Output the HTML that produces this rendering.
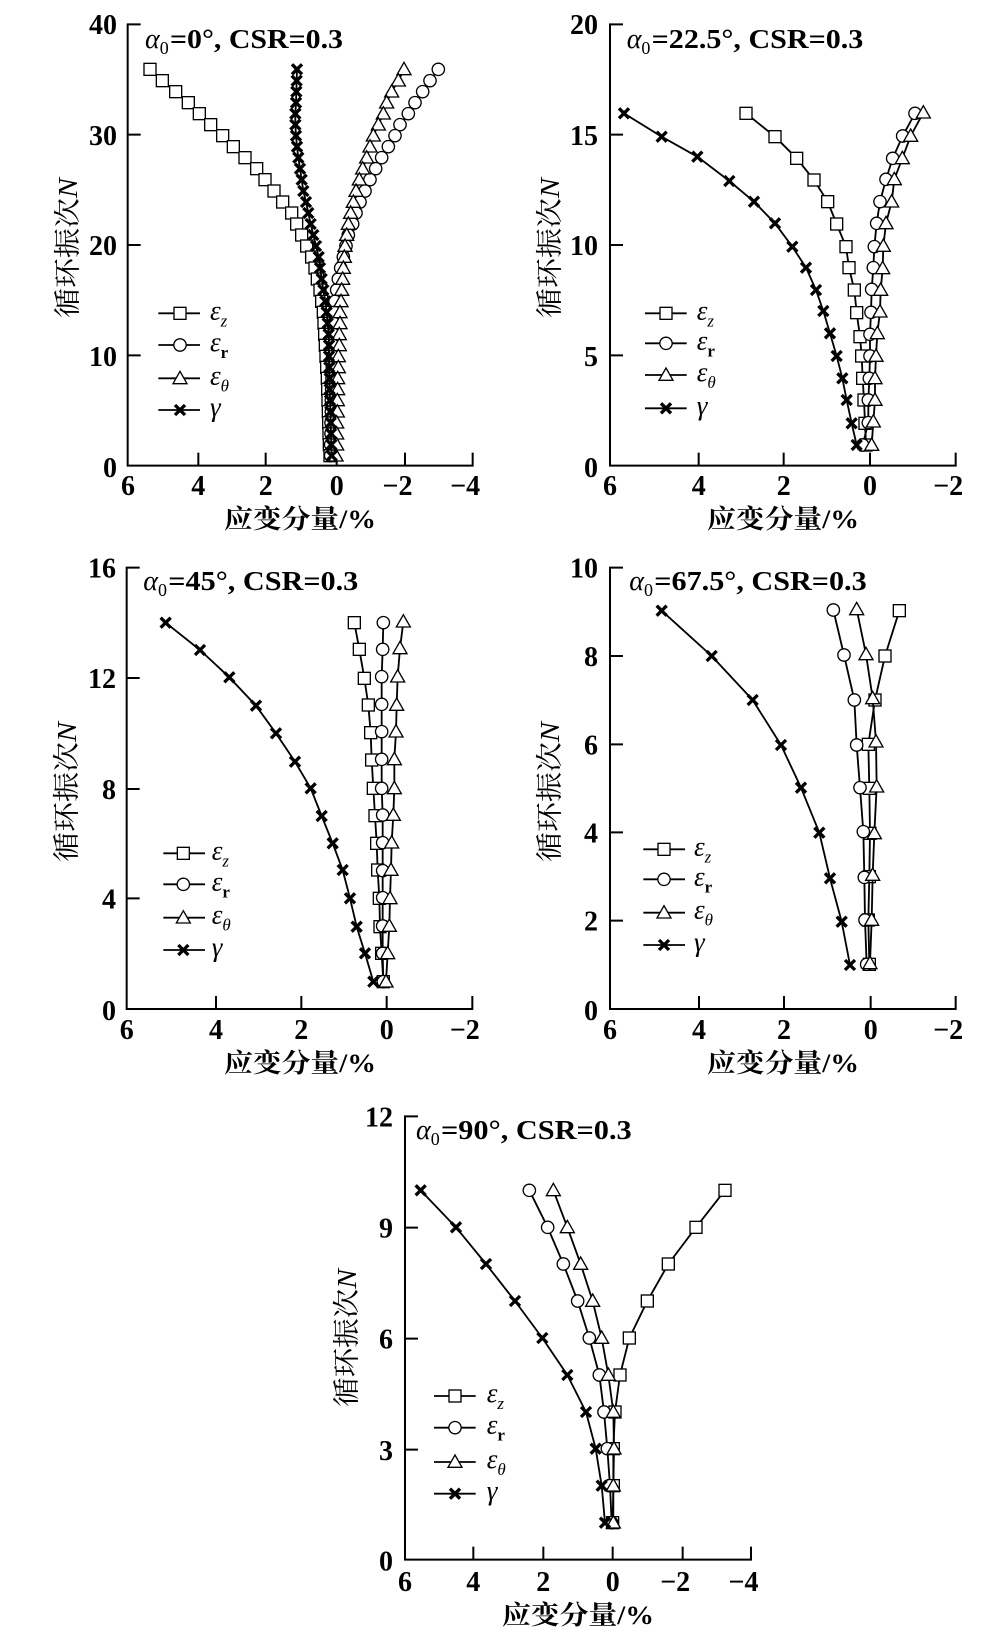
<!DOCTYPE html>
<html>
<head>
<meta charset="utf-8">
<style>
html,body{margin:0;padding:0;background:#fff;}
svg{display:block;}
.ax{fill:none;stroke:#000;stroke-width:6;stroke-linecap:square;}
.ln{fill:none;stroke:#000;stroke-width:5.5;stroke-linejoin:round;}
.z{marker-start:url(#mS);marker-mid:url(#mS);marker-end:url(#mS);}
.r{marker-start:url(#mC);marker-mid:url(#mC);marker-end:url(#mC);}
.h{marker-start:url(#mT);marker-mid:url(#mT);marker-end:url(#mT);}
.g{marker-start:url(#mX);marker-mid:url(#mX);marker-end:url(#mX);}
.lz{marker-mid:url(#mS);}
.lr{marker-mid:url(#mC);}
.lh{marker-mid:url(#mT);}
.lg{marker-mid:url(#mX);}
.tk{font-family:"Liberation Serif",serif;font-weight:bold;font-size:28px;fill:#000;}
.al{font-family:"Liberation Serif",serif;font-style:italic;font-size:28px;fill:#000;}
.sb{font-family:"Liberation Serif",serif;font-size:18px;fill:#000;}
.bt{font-family:"Liberation Serif",serif;font-weight:bold;font-size:27px;fill:#000;}
.xt{font-family:"Liberation Serif","Noto Serif CJK SC",serif;font-weight:bold;font-size:26px;fill:#000;}
.yt{font-family:"Liberation Serif","Noto Serif CJK SC",serif;font-weight:normal;font-size:27px;fill:#000;}
.ni{font-family:"Liberation Serif",serif;font-style:italic;}
.le{font-family:"Liberation Serif",serif;font-style:italic;font-size:27px;fill:#000;}
.ls{font-family:"Liberation Serif",serif;font-size:17px;}
</style>
</head>
<body>
<svg width="1003" height="1645" viewBox="0 0 1003 1645">
<defs>
<marker id="mS" markerUnits="userSpaceOnUse" markerWidth="60" markerHeight="60" refX="0" refY="0" overflow="visible" orient="0"><rect x="-18" y="-18" width="36" height="36" fill="#fff" stroke="#000" stroke-width="4"/></marker>
<marker id="mC" markerUnits="userSpaceOnUse" markerWidth="60" markerHeight="60" refX="0" refY="0" overflow="visible" orient="0"><circle cx="0" cy="0" r="18.5" fill="#fff" stroke="#000" stroke-width="4"/></marker>
<marker id="mT" markerUnits="userSpaceOnUse" markerWidth="60" markerHeight="60" refX="0" refY="0" overflow="visible" orient="0"><path d="M0,-21 L21,16 L-21,16 Z" fill="#fff" stroke="#000" stroke-width="4" stroke-linejoin="miter"/></marker>
<marker id="mX" markerUnits="userSpaceOnUse" markerWidth="60" markerHeight="60" refX="0" refY="0" overflow="visible" orient="0"><path d="M-15,-15 L15,15 M-15,15 L15,-15" fill="none" stroke="#000" stroke-width="10"/></marker>
</defs>
<rect x="0" y="0" width="1003" height="1645" fill="#fff"/>

<!-- ================= Panel 1 ================= -->
<g transform="scale(0.333333)">
<path class="ax" d="M383,73 L383,1397 L1418,1397 M383,73 h36 M383,404 h36 M383,735 h36 M383,1066 h36 M595,1397 v-36 M797,1397 v-36 M1010,1397 v-36 M1215,1397 v-36 M1418,1397 v-36"/>
<polyline class="ln z" points="450,208 487,242 527,275 565,308 598,341 632,374 668,407 700,440 735,473 770,506 795,539 822,573 848,606 875,639 890,672 905,705 920,738 935,771 945,804 952,837 960,870 965,904 970,937 972,970 974,1003 976,1036 978,1069 980,1102 982,1135 983,1168 984,1201 985,1235 986,1268 987,1301 988,1334 990,1367"/>
<polyline class="ln r" points="1315,208 1290,242 1268,275 1245,308 1225,341 1200,374 1185,407 1165,440 1145,473 1127,506 1110,539 1095,573 1080,606 1068,639 1058,672 1045,705 1038,738 1030,771 1022,804 1015,837 1010,870 1005,904 1003,937 1001,970 1000,1003 999,1036 998,1069 997,1102 996,1135 995,1168 994,1201 994,1235 993,1268 993,1301 992,1334 992,1367"/>
<polyline class="ln h" points="1212,208 1195,242 1175,275 1160,308 1150,341 1135,374 1120,407 1110,440 1100,473 1088,506 1078,539 1068,573 1060,606 1052,639 1045,672 1040,705 1035,738 1033,771 1030,804 1028,837 1025,870 1023,904 1020,937 1020,970 1018,1003 1018,1036 1015,1069 1015,1102 1013,1135 1013,1168 1012,1201 1012,1235 1010,1268 1010,1301 1010,1334 1008,1367"/>
<polyline class="ln g" points="891,208 890,242 889,275 888,308 886,341 886,374 888,407 891,440 895,473 900,506 905,539 910,573 918,606 925,639 932,672 940,705 948,738 956,771 960,804 965,837 970,870 976,904 980,937 983,970 986,1003 987,1036 987,1069 988,1102 989,1135 989,1168 990,1201 991,1235 992,1268 993,1301 994,1334 995,1367"/>
<polyline class="ln lz" points="475,940 540,940 600,940"/>
<polyline class="ln lr" points="475,1035 540,1035 600,1035"/>
<polyline class="ln lh" points="475,1135 540,1135 600,1135"/>
<polyline class="ln lg" points="475,1230 540,1230 600,1230"/>
</g>
<text class="tk" x="117" y="34" text-anchor="end">40</text>
<text class="tk" x="117" y="145" text-anchor="end">30</text>
<text class="tk" x="117" y="255" text-anchor="end">20</text>
<text class="tk" x="117" y="366" text-anchor="end">10</text>
<text class="tk" x="117" y="477" text-anchor="end">0</text>
<text class="tk" x="128" y="495" text-anchor="middle">6</text>
<text class="tk" x="198.3" y="495" text-anchor="middle">4</text>
<text class="tk" x="265.7" y="495" text-anchor="middle">2</text>
<text class="tk" x="336.7" y="495" text-anchor="middle">0</text>
<text class="tk" x="412.5" y="495" text-anchor="end">−2</text>
<text class="tk" x="480.2" y="495" text-anchor="end">−4</text>
<text class="xt" x="300" y="528" text-anchor="middle" textLength="152" lengthAdjust="spacingAndGlyphs">应变分量/%</text>
<text class="yt" transform="translate(77,248) rotate(-90)" text-anchor="middle" textLength="140" lengthAdjust="spacingAndGlyphs">循环振次<tspan class="ni">N</tspan></text>
<text x="145" y="48"><tspan class="al">α</tspan><tspan class="sb" dy="6">0</tspan></text>
<text class="bt" x="170" y="48" textLength="173" lengthAdjust="spacingAndGlyphs">=0°, CSR=0.3</text>
<text class="le" x="210" y="319.3">ε<tspan class="ls" dy="7">z</tspan></text>
<text class="le" x="210" y="351">ε<tspan class="ls" dy="7" font-style="normal" font-weight="bold">r</tspan></text>
<text class="le" x="210" y="384.3">ε<tspan class="ls" dy="7">θ</tspan></text>
<text class="le" x="210" y="416">γ</text>

<!-- ================= Panel 2 ================= -->
<g transform="translate(490,0) scale(0.333333)">
<path class="ax" d="M360,73 L360,1397 L1397,1397 M360,73 h36 M360,404 h36 M360,735 h36 M360,1066 h36 M626,1397 v-36 M881,1397 v-36 M1140,1397 v-36 M1397,1397 v-36"/>
<polyline class="ln z" points="768,340 855,410 920,475 972,540 1013,605 1040,672 1068,740 1077,803 1093,870 1100,938 1110,1010 1115,1068 1118,1135 1122,1200 1125,1270 1128,1335"/>
<polyline class="ln r" points="1275,340 1238,408 1208,475 1188,538 1170,605 1160,670 1153,740 1150,803 1145,868 1143,937 1140,1003 1140,1068 1138,1135 1135,1200 1135,1268 1118,1335"/>
<polyline class="ln h" points="1300,338 1262,408 1237,475 1213,538 1205,605 1188,670 1180,738 1178,805 1172,870 1170,935 1162,1000 1158,1068 1155,1135 1155,1200 1150,1265 1145,1335"/>
<polyline class="ln g" points="402,340 515,410 622,470 718,543 792,605 855,670 907,740 948,803 978,870 1000,933 1020,1000 1040,1068 1057,1135 1070,1200 1085,1270 1100,1335"/>
<polyline class="ln lz" points="465,940 528,940 590,940"/>
<polyline class="ln lr" points="465,1030 528,1030 590,1030"/>
<polyline class="ln lh" points="465,1125 528,1125 590,1125"/>
<polyline class="ln lg" points="465,1225 528,1225 590,1225"/>
</g>
<text class="tk" x="598" y="34" text-anchor="end">20</text>
<text class="tk" x="598" y="145" text-anchor="end">15</text>
<text class="tk" x="598" y="255" text-anchor="end">10</text>
<text class="tk" x="598" y="366" text-anchor="end">5</text>
<text class="tk" x="598" y="477" text-anchor="end">0</text>
<text class="tk" x="610" y="495" text-anchor="middle">6</text>
<text class="tk" x="698.7" y="495" text-anchor="middle">4</text>
<text class="tk" x="783.7" y="495" text-anchor="middle">2</text>
<text class="tk" x="870" y="495" text-anchor="middle">0</text>
<text class="tk" x="963.2" y="495" text-anchor="end">−2</text>
<text class="xt" x="783" y="528" text-anchor="middle" textLength="152" lengthAdjust="spacingAndGlyphs">应变分量/%</text>
<text class="yt" transform="translate(559,248) rotate(-90)" text-anchor="middle" textLength="140" lengthAdjust="spacingAndGlyphs">循环振次<tspan class="ni">N</tspan></text>
<text x="626.7" y="48"><tspan class="al">α</tspan><tspan class="sb" dy="6">0</tspan></text>
<text class="bt" x="651.7" y="48" textLength="211.6" lengthAdjust="spacingAndGlyphs">=22.5°, CSR=0.3</text>
<text class="le" x="696.7" y="319.3">ε<tspan class="ls" dy="7">z</tspan></text>
<text class="le" x="696.7" y="349.3">ε<tspan class="ls" dy="7" font-style="normal" font-weight="bold">r</tspan></text>
<text class="le" x="696.7" y="381">ε<tspan class="ls" dy="7">θ</tspan></text>
<text class="le" x="696.7" y="414.3">γ</text>

<!-- ================= Panel 3 ================= -->
<g transform="translate(0,520) scale(0.333333)">
<path class="ax" d="M380,143 L380,1467 L1417,1467 M380,143 h36 M380,474 h36 M380,807 h36 M380,1135 h36 M648,1467 v-36 M904,1467 v-36 M1160,1467 v-36 M1417,1467 v-36"/>
<polyline class="ln z" points="1063,308 1078,388 1093,475 1105,555 1112,638 1115,720 1120,805 1125,887 1130,970 1133,1050 1138,1135 1140,1220 1145,1300 1150,1385"/>
<polyline class="ln r" points="1150,308 1148,388 1145,470 1145,553 1145,635 1145,718 1145,805 1148,885 1148,968 1148,1052 1148,1133 1148,1218 1148,1300 1150,1385"/>
<polyline class="ln h" points="1210,305 1200,385 1193,470 1190,555 1188,635 1183,718 1183,805 1180,885 1175,968 1173,1050 1170,1135 1168,1218 1163,1300 1158,1385"/>
<polyline class="ln g" points="497,308 600,390 688,472 768,557 828,640 885,725 932,805 965,888 998,970 1028,1050 1050,1135 1070,1220 1095,1300 1120,1385"/>
<polyline class="ln lz" points="490,1000 550,1000 615,1000"/>
<polyline class="ln lr" points="490,1093 550,1093 615,1093"/>
<polyline class="ln lh" points="490,1193 550,1193 615,1193"/>
<polyline class="ln lg" points="490,1290 550,1290 615,1290"/>
</g>
<text class="tk" x="116" y="577.7" text-anchor="end">16</text>
<text class="tk" x="116" y="688" text-anchor="end">12</text>
<text class="tk" x="116" y="799" text-anchor="end">8</text>
<text class="tk" x="116" y="908.3" text-anchor="end">4</text>
<text class="tk" x="116" y="1020" text-anchor="end">0</text>
<text class="tk" x="126.7" y="1039" text-anchor="middle">6</text>
<text class="tk" x="216" y="1039" text-anchor="middle">4</text>
<text class="tk" x="301.3" y="1039" text-anchor="middle">2</text>
<text class="tk" x="386.7" y="1039" text-anchor="middle">0</text>
<text class="tk" x="479.8" y="1039" text-anchor="end">−2</text>
<text class="xt" x="300" y="1072" text-anchor="middle" textLength="152" lengthAdjust="spacingAndGlyphs">应变分量/%</text>
<text class="yt" transform="translate(76,792) rotate(-90)" text-anchor="middle" textLength="140" lengthAdjust="spacingAndGlyphs">循环振次<tspan class="ni">N</tspan></text>
<text x="143.3" y="590"><tspan class="al">α</tspan><tspan class="sb" dy="6">0</tspan></text>
<text class="bt" x="168.3" y="590" textLength="190" lengthAdjust="spacingAndGlyphs">=45°, CSR=0.3</text>
<text class="le" x="211.7" y="859.3">ε<tspan class="ls" dy="7">z</tspan></text>
<text class="le" x="211.7" y="890.3">ε<tspan class="ls" dy="7" font-style="normal" font-weight="bold">r</tspan></text>
<text class="le" x="211.7" y="923.7">ε<tspan class="ls" dy="7">θ</tspan></text>
<text class="le" x="211.7" y="956">γ</text>

<!-- ================= Panel 4 ================= -->
<g transform="translate(490,520) scale(0.333333)">
<path class="ax" d="M360,143 L360,1467 L1397,1467 M360,143 h36 M360,408 h36 M360,673 h36 M360,937 h36 M360,1202 h36 M627,1467 v-36 M882,1467 v-36 M1142,1467 v-36 M1397,1467 v-36"/>
<polyline class="ln z" points="1228,272 1185,408 1155,540 1135,673 1138,805 1140,940 1138,1070 1135,1200 1138,1333"/>
<polyline class="ln r" points="1030,270 1062,405 1093,540 1100,675 1110,803 1120,935 1123,1072 1125,1200 1130,1333"/>
<polyline class="ln h" points="1100,268 1128,403 1148,535 1158,665 1160,800 1153,940 1148,1065 1145,1200 1140,1330"/>
<polyline class="ln g" points="515,272 665,408 788,540 873,675 933,803 988,938 1020,1075 1055,1205 1080,1335"/>
<polyline class="ln lz" points="460,988 522,988 585,988"/>
<polyline class="ln lr" points="460,1078 522,1078 585,1078"/>
<polyline class="ln lh" points="460,1178 522,1178 585,1178"/>
<polyline class="ln lg" points="460,1275 522,1275 585,1275"/>
</g>
<text class="tk" x="598" y="577.7" text-anchor="end">10</text>
<text class="tk" x="598" y="666" text-anchor="end">8</text>
<text class="tk" x="598" y="754.3" text-anchor="end">6</text>
<text class="tk" x="598" y="842.3" text-anchor="end">4</text>
<text class="tk" x="598" y="930.7" text-anchor="end">2</text>
<text class="tk" x="598" y="1020" text-anchor="end">0</text>
<text class="tk" x="610" y="1039" text-anchor="middle">6</text>
<text class="tk" x="699" y="1039" text-anchor="middle">4</text>
<text class="tk" x="784" y="1039" text-anchor="middle">2</text>
<text class="tk" x="870.7" y="1039" text-anchor="middle">0</text>
<text class="tk" x="963.2" y="1039" text-anchor="end">−2</text>
<text class="xt" x="783" y="1072" text-anchor="middle" textLength="152" lengthAdjust="spacingAndGlyphs">应变分量/%</text>
<text class="yt" transform="translate(559,792) rotate(-90)" text-anchor="middle" textLength="140" lengthAdjust="spacingAndGlyphs">循环振次<tspan class="ni">N</tspan></text>
<text x="629.3" y="590"><tspan class="al">α</tspan><tspan class="sb" dy="6">0</tspan></text>
<text class="bt" x="654.3" y="590" textLength="212.4" lengthAdjust="spacingAndGlyphs">=67.5°, CSR=0.3</text>
<text class="le" x="694" y="855.3">ε<tspan class="ls" dy="7">z</tspan></text>
<text class="le" x="694" y="885.3">ε<tspan class="ls" dy="7" font-style="normal" font-weight="bold">r</tspan></text>
<text class="le" x="694" y="918.7">ε<tspan class="ls" dy="7">θ</tspan></text>
<text class="le" x="694" y="951">γ</text>

<!-- ================= Panel 5 ================= -->
<g transform="translate(330,1040) scale(0.333333)">
<path class="ax" d="M225,229 L225,1559 L1263,1559 M225,229 h36 M225,563 h36 M225,896 h36 M225,1229 h36 M430,1559 v-36 M640,1559 v-36 M848,1559 v-36 M1058,1559 v-36 M1263,1559 v-36"/>
<polyline class="ln z" points="1185,451 1098,562 1015,672 952,783 898,894 870,1005 855,1116 850,1226 850,1337 848,1448"/>
<polyline class="ln r" points="598,451 653,562 700,672 743,783 778,894 808,1005 822,1116 832,1226 840,1337 845,1448"/>
<polyline class="ln h" points="670,451 712,562 752,672 788,783 815,894 835,1005 850,1116 852,1226 850,1337 850,1448"/>
<polyline class="ln g" points="272,451 378,562 468,672 555,783 637,894 712,1005 768,1116 797,1226 815,1337 825,1448"/>
<polyline class="ln lz" points="312,1068 375,1068 437,1068"/>
<polyline class="ln lr" points="312,1163 375,1163 437,1163"/>
<polyline class="ln lh" points="312,1266 375,1266 437,1266"/>
<polyline class="ln lg" points="312,1361 375,1361 437,1361"/>
</g>
<text class="tk" x="393" y="1126.4" text-anchor="end">12</text>
<text class="tk" x="393" y="1237.7" text-anchor="end">9</text>
<text class="tk" x="393" y="1348.6" text-anchor="end">6</text>
<text class="tk" x="393" y="1459.8" text-anchor="end">3</text>
<text class="tk" x="393" y="1570.6" text-anchor="end">0</text>
<text class="tk" x="405" y="1591" text-anchor="middle">6</text>
<text class="tk" x="473.3" y="1591" text-anchor="middle">4</text>
<text class="tk" x="543.3" y="1591" text-anchor="middle">2</text>
<text class="tk" x="612.7" y="1591" text-anchor="middle">0</text>
<text class="tk" x="690.2" y="1591" text-anchor="end">−2</text>
<text class="tk" x="758.5" y="1591" text-anchor="end">−4</text>
<text class="xt" x="578" y="1624" text-anchor="middle" textLength="152" lengthAdjust="spacingAndGlyphs">应变分量/%</text>
<text class="yt" transform="translate(356,1338) rotate(-90)" text-anchor="middle" textLength="138" lengthAdjust="spacingAndGlyphs">循环振次<tspan class="ni">N</tspan></text>
<text x="416" y="1139"><tspan class="al">α</tspan><tspan class="sb" dy="6">0</tspan></text>
<text class="bt" x="441" y="1139" textLength="190.7" lengthAdjust="spacingAndGlyphs">=90°, CSR=0.3</text>
<text class="le" x="486.7" y="1402">ε<tspan class="ls" dy="7">z</tspan></text>
<text class="le" x="486.7" y="1433.7">ε<tspan class="ls" dy="7" font-style="normal" font-weight="bold">r</tspan></text>
<text class="le" x="486.7" y="1468">ε<tspan class="ls" dy="7">θ</tspan></text>
<text class="le" x="486.7" y="1499.6">γ</text>
</svg>
</body>
</html>
